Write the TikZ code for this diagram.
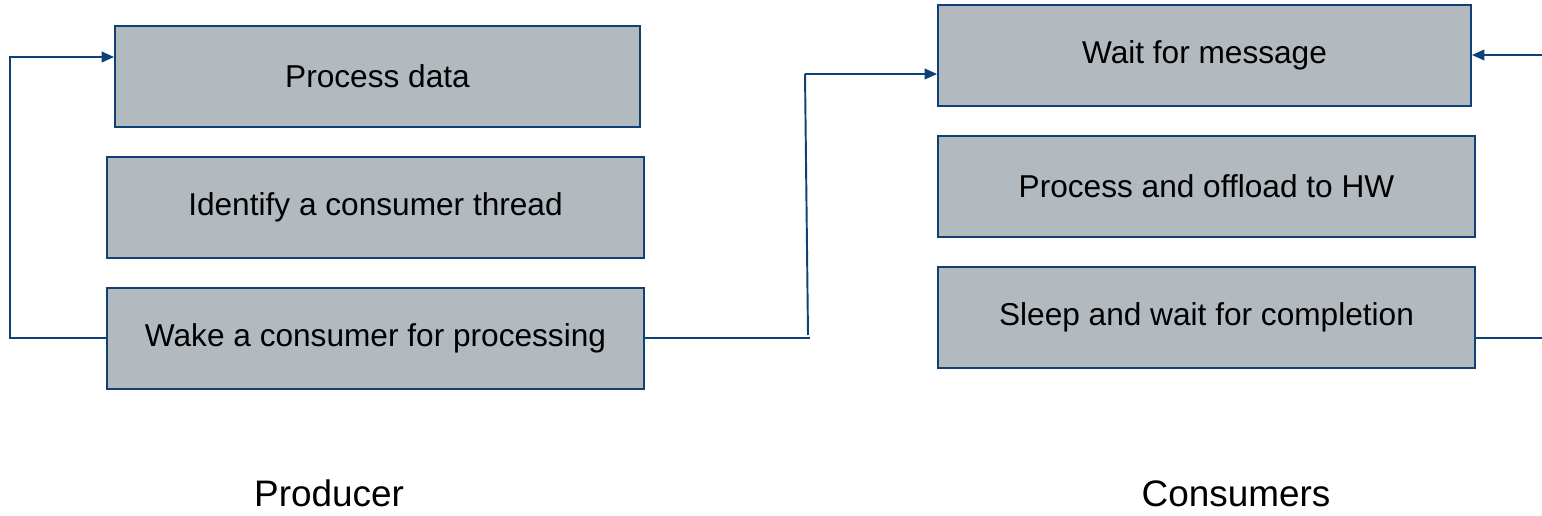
\documentclass[tikz,border=0pt]{standalone}
\usepackage{fontspec}
\setmainfont{Liberation Sans}
\usetikzlibrary{arrows.meta}
\definecolor{boxfill}{HTML}{B2BAC0}
\definecolor{lineblue}{HTML}{0F4176}
\begin{document}
\begin{tikzpicture}[x=0.02cm,y=-0.02cm,
  stepbox/.style={draw=lineblue,fill=boxfill,line width=1.1pt,minimum height=101*0.02cm,inner sep=0pt,font=\fontsize{18}{21}\selectfont},
  conn/.style={draw=lineblue,line width=1.1pt},
  arr/.style={conn,-{Triangle[length=7pt,width=6pt]}},
  lbl/.style={font=\fontsize{21}{24}\selectfont,inner sep=0pt}]
\useasboundingbox (0,0) rectangle (1542,516);
\node[stepbox,minimum width=525*0.02cm] (pd) at (377.5,76.5) {Process data};
\node[stepbox,minimum width=537*0.02cm] (id) at (375.5,207.5) {Identify a consumer thread};
\node[stepbox,minimum width=537*0.02cm] (wk) at (375.5,338.5) {Wake a consumer for processing};
\node[stepbox,minimum width=533*0.02cm] (wm) at (1204.5,55.5) {Wait for message};
\node[stepbox,minimum width=537*0.02cm] (po) at (1206.5,186.5) {Process and offload to HW};
\node[stepbox,minimum width=537*0.02cm] (sl) at (1206.5,317.5) {Sleep and wait for completion};
\node[lbl,anchor=base] (prod) at (329,507) {Producer};
\node[lbl,anchor=base] (cons) at (1236,507) {Consumers};
\coordinate (a1) at (10,338);
\coordinate (a2) at (10,57);
\draw[arr] (wk.west |- 0,338) -- (a1) -- (a2) -- (pd.west |- a2);
\coordinate (b1) at (810,338);
\coordinate (b2) at (805,74);
\coordinate (b3) at (808,335);
\draw[conn] (wk.east |- b1) -- (b1);
\draw[conn] (b3) -- (b2);
\draw[arr] (b2) -- (wm.west |- b2);
\coordinate (c1) at (1542,338);
\coordinate (c2) at (1542,55);
\draw[conn] (sl.east |- c1) -- (c1);
\draw[arr] (c2) -- (wm.east |- c2);
\end{tikzpicture}
\end{document}
